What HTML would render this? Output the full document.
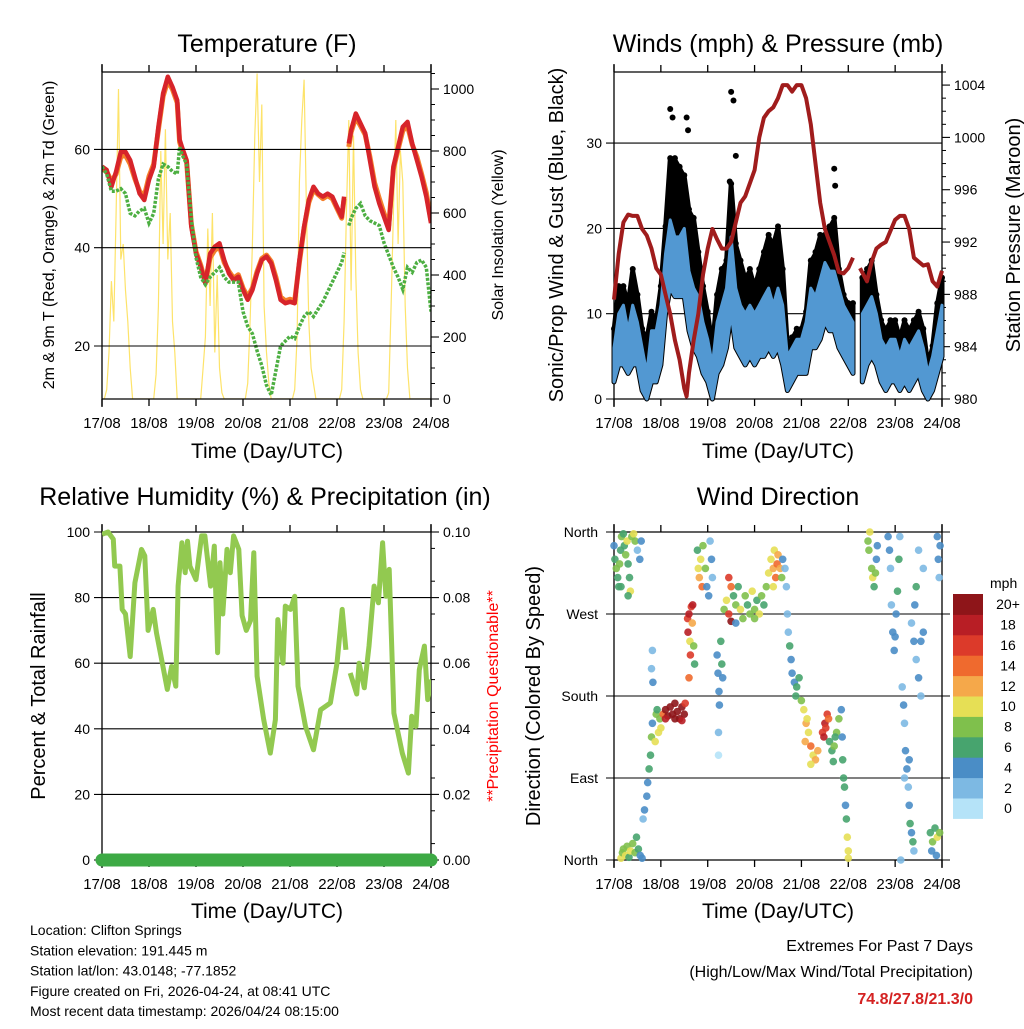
<!DOCTYPE html>
<html><head><meta charset="utf-8"><style>
html,body{margin:0;padding:0;background:#fff;}
svg text{font-family:"Liberation Sans",sans-serif;}
</style></head><body>
<svg id="s" width="1024" height="1024" viewBox="0 0 1024 1024" xmlns="http://www.w3.org/2000/svg">
<rect width="1024" height="1024" fill="#fff"/>
<g id="g"></g>
</svg>
<script>
// ===== Temperature panel data =====
const tempTimes=[0,0.1,0.2,0.3,0.4,0.5,0.6,0.7,0.8,0.9,1.0,1.1,1.2,1.3,1.4,1.5,1.6,1.65,1.7,1.8,1.9,2.0,2.1,2.2,2.3,2.4,2.5,2.6,2.7,2.8,2.9,3.0,3.1,3.2,3.3,3.4,3.5,3.6,3.7,3.8,3.9,4.0,4.1,4.2,4.3,4.4,4.5,4.6,4.7,4.8,4.9,5.0,5.1,5.15,5.2,5.25,5.3,5.4,5.5,5.6,5.7,5.8,5.9,6.0,6.1,6.2,6.3,6.4,6.5,6.6,6.7,6.8,6.9,7.0];
const temp2m=[56.5,55.8,52.4,55.5,59.5,59.5,57.8,54.4,51,49.7,53.8,56.5,64.6,71.4,74.8,72.7,70,62,60.5,57.8,44.3,38.8,36.1,32.7,38.8,40.2,40.9,37.5,34.8,33.4,34.1,31.4,29.4,31.4,34.8,37.5,38.2,36.8,33.4,29.4,28.7,29,28.7,37.5,44.3,49.7,52.4,51,50.4,51,50.4,48.3,46.3,50.4,null,61.2,63.9,67.3,65.3,63.3,57.8,52.4,49,46.3,43.6,56.5,60.5,64.6,65.6,61.2,57.8,54.4,50.4,45];
const temp9m=[56,55.5,53.5,55,58.5,58.8,57,54,51.5,50.5,54.5,57,64,70.8,74,72.2,69.5,61.5,60,57.5,44.8,39.2,36.5,33,38,39.5,40.2,37,35.2,33.8,34.5,31.8,30,31.8,35.2,37.8,38.5,37.2,34,30,29.2,29.5,29.2,37,44,49.2,51.8,50.8,50,50.6,50,48,46,50,null,60.5,63.5,66.5,64.8,63,58.5,53.2,50,47,44.5,56,60,63.8,64.8,61,58.5,55,51.2,45.5];
const dew2m=[56.5,55,51.5,51.5,52,51,47,46.5,47.5,48,45,47,54,57,56.5,55.5,55,60.5,59,57,46,38,34,32.5,34,35,36,34,33,33,33,27,24,22.5,19,16,12,10,15,20,21,22,21.5,24,26,27,26,27.5,29,31,33,35,37,39,null,44.5,46,48,49,46.5,45.5,45,44.5,41,38.5,36,34,31.5,36,35,37,37.5,36,27];
const solarValues=[0,0,30,150,380,250,600,1000,450,500,350,250,100,0,0,0,0,0,0,0,
0,0,0,80,300,800,500,870,450,600,250,150,0,0,0,0,0,0,0,0,
0,0,0,100,200,550,300,600,150,400,100,20,0,0,0,0,0,0,0,0,
0,0,50,250,500,850,1050,700,950,300,150,50,0,0,0,0,0,0,0,0,
0,0,30,200,700,900,1030,600,250,100,50,0,0,0,0,0,0,0,0,0,
0,0,30,250,600,900,350,850,400,150,30,0,0,0,0,0,0,0,0,0,
0,0,20,300,600,900,500,800,700,300,100,0,0,0,0,0,0,0,0,0,0];
// ===== Wind panel data =====
const windTimes=[0,0.1,0.2,0.3,0.4,0.5,0.6,0.7,0.8,0.9,1.0,1.1,1.2,1.3,1.4,1.5,1.6,1.7,1.8,1.9,2.0,2.1,2.2,2.3,2.4,2.5,2.6,2.7,2.8,2.9,3.0,3.1,3.2,3.3,3.4,3.5,3.6,3.7,3.8,3.9,4.0,4.1,4.2,4.3,4.4,4.5,4.6,4.7,4.8,4.9,5.0,5.1,5.2,5.3,5.4,5.5,5.6,5.7,5.8,5.9,6.0,6.1,6.2,6.3,6.4,6.5,6.6,6.7,6.8,6.9,7.0];
const windSpeed=[6,10,11,8,11,9,6,3,8,8,11,17,21,19,19,20,15,13,12,9,7,4,9,11,13,19,13,11,10,11,10,11,12,13,11,13,11,5,6,7,7,9,13,12,14,16,15,15,13,11,10,9,null,10,11,12,10,7,6,7,7,5,7,6,7,8,6,3,5,8,11];
const windLow=[2,4,4,3,4,4,1,0,2,2,4,10,13,12,12,12,8,6,5,3,2,0,3,4,6,10,6,5,4,5,4,5,5,6,5,6,4,1,2,3,3,3,6,6,7,9,8,8,6,5,4,3,null,2,4,5,4,2,1,2,2,1,2,1,2,3,1,0,1,3,5];
const windGust=[8,13,13,11,15,12,8,7,10,9,13,20,28,28,27,26,22,21,17,13,10,6,12,15,16,25,18,16,14,15,13,15,17,19,18,20,15,6,7,8,8,10,16,17,19,19,20,21,15,12,11,11,null,14,15,16,12,9,8,9,9,7,9,8,9,10,8,4,6,11,14];
const peakGustTimes=[1.2,1.25,1.55,1.58,2.5,2.55,2.6,4.7,4.72,2.47];
const peakGustValues=[34,33,33,31.5,36,35,28.5,27,25,25.5];
const pressTimes=[0,0.1,0.2,0.3,0.4,0.5,0.6,0.7,0.8,0.9,1.0,1.1,1.2,1.3,1.4,1.5,1.55,1.6,1.7,1.8,1.9,2.0,2.1,2.2,2.3,2.4,2.5,2.6,2.7,2.8,2.9,3.0,3.1,3.2,3.3,3.4,3.5,3.6,3.7,3.8,3.9,4.0,4.1,4.2,4.3,4.4,4.5,4.6,4.7,4.8,4.9,5.0,5.1,5.2,5.25,5.4,5.5,5.6,5.7,5.8,6.0,6.1,6.2,6.3,6.4,6.5,6.6,6.7,6.8,6.9,7.0];
const pressValues=[987.6,991.1,993.5,994.1,994,994,993,992.5,991.5,990,989.5,988,986.5,984.5,983,980.8,980.2,982,984.5,986.5,989.5,991.5,993,992.2,991.5,991.5,992,993.5,995,995.5,996.5,997.5,1000,1001.5,1002,1002.3,1003,1004,1004,1003.5,1004,1004,1003,1001,998,995,993,992,991,989.7,989.6,990,990.8,null,990,989,990.5,991.5,991.8,992,993.7,994,994,993,990.8,990.5,990.2,990.3,989,988.6,989.8];
// ===== RH panel data =====
const rhTimes=[0,0.13,0.24,0.27,0.38,0.43,0.5,0.6,0.7,0.84,0.91,0.98,1.09,1.16,1.27,1.39,1.48,1.57,1.62,1.7,1.77,1.82,1.87,2.0,2.12,2.19,2.31,2.39,2.46,2.51,2.57,2.66,2.73,2.8,2.91,2.98,3.07,3.16,3.23,3.3,3.44,3.58,3.69,3.74,3.85,3.9,4.01,4.1,4.17,4.33,4.5,4.65,4.86,5.0,5.11,5.19,5.23,5.28,5.42,5.47,5.58,5.68,5.79,5.88,5.97,6.04,6.11,6.21,6.39,6.52,6.59,6.68,6.75,6.86,6.93,7.0];
const rhValues=[99.3,100,97.8,89.6,89.6,76.4,75,62,84.5,94.7,92.7,70,76.4,69.2,61,52,59,53,83.5,96.7,87.6,97.2,89.6,85.5,98.8,98.8,83.5,95.7,63.2,90.6,75,94.7,87.6,98.8,94.7,74.5,70,73,93.7,56,42.8,32.6,42.8,73.3,60,77.4,76.4,80.4,53,40.7,33.6,45.8,47.9,60,76.4,64.1,null,57,50.6,60,52.5,65.2,83.5,78.4,96.7,80.4,88.6,44.8,32.6,26.5,43.8,40.7,58,65.2,48.9,55];
const precipTimes=[0,7];
const precipValues=[0,0];
// ===== Wind direction data =====
const dirTimes=[0.02,0.05,0.08,0.1,0.12,0.14,0.16,0.2,0.22,0.25,0.28,0.3,0.33,0.35,0.38,0.42,0.45,0.5,0.55,0.58,0.0,0.15,0.3,
0.15,0.18,0.2,0.25,0.28,0.32,0.35,0.4,0.45,0.48,0.52,0.56,0.6,
0.62,0.65,0.7,0.72,0.75,0.78,0.8,0.82,0.8,0.82,0.83,0.9,0.95,0.88,0.98,1.0,0.92,
1.05,1.1,1.15,1.2,1.25,1.3,1.35,1.4,1.45,1.5,1.52,1.1,1.3,1.45,
1.57,1.58,1.6,1.62,1.63,1.65,1.67,1.7,1.72,1.6,1.68,
1.78,1.8,1.82,1.85,1.88,1.9,1.95,1.98,2.02,2.05,2.08,2.1,
2.2,2.22,2.24,2.25,2.23,2.23,2.28,2.3,2.32,
2.35,2.4,2.45,2.5,2.55,2.6,2.65,2.7,2.75,2.8,2.85,2.9,2.95,3.0,3.05,3.1,3.15,3.2,3.25,2.45,2.5,2.6,3.0,
3.3,3.35,3.4,3.42,3.45,3.48,3.5,3.55,3.58,3.4,3.6,
3.65,3.68,3.7,3.72,3.75,3.78,3.8,3.85,3.9,3.95,3.88,
4.0,4.05,4.1,4.15,4.2,4.25,4.3,4.35,4.08,4.12,4.2,
4.45,4.5,4.55,4.58,4.48,4.52,
4.6,4.65,4.7,4.75,4.8,4.68,4.72,
4.85,4.87,4.88,4.9,4.92,4.94,4.96,4.98,5.0,5.0,
5.42,5.44,5.46,5.5,5.52,5.55,5.58,5.6,5.62,
5.85,5.88,5.9,5.92,5.95,5.98,6.0,6.02,6.05,6.08,6.1,
6.15,6.18,6.2,6.22,6.25,6.28,6.3,6.32,6.35,6.38,6.4,6.2,6.3,6.12,
6.35,6.4,6.45,6.5,6.55,6.6,6.5,6.45,6.6,6.42,6.55,
6.75,6.8,6.85,6.9,6.95,6.78,6.88,6.9,6.92,6.94,6.96];
const dirValues=[330,320,310,300,325,340,355,358,345,335,350,325,310,295,355,358,350,340,330,350,345,300,290,
2,8,12,5,15,3,10,18,8,25,12,5,2,
45,55,70,85,100,115,135,150,210,230,195,160,140,130,155,145,165,
160,165,158,168,160,172,163,155,168,160,172,155,155,153,
265,250,270,240,225,278,260,235,215,200,280,
340,320,310,330,300,345,320,300,290,350,330,310,
225,205,185,170,140,115,240,215,200,
275,285,270,262,290,280,300,275,265,290,280,270,295,275,285,270,290,280,300,310,300,260,265,
315,330,320,340,310,325,335,320,310,300,330,
320,300,270,250,235,220,205,195,190,200,180,
175,165,150,140,125,115,110,120,130,155,105,
140,150,160,155,135,145,
130,120,125,140,155,108,135,
165,135,110,90,80,60,45,25,10,2,
350,340,360,320,310,300,315,330,345,
355,340,320,280,250,230,245,270,295,330,355,
190,170,150,120,100,80,60,40,30,20,10,90,110,0,
260,240,220,200,240,250,340,300,320,280,180,
30,20,35,25,30,10,5,355,330,310,345];
const dirSpeeds=[6,8,7,6,8,7,8,6,7,8,10,6,7,10,9,10,8,3,4,4,4,6,6,
10,9,8,10,8,7,10,8,9,7,7,4,5,
2,4,4,4,6,6,8,4,3,3,4,8,10,10,8,10,6,
14,20,20,20,22,20,21,20,20,21,16,18,20,18,
16,18,18,10,16,16,12,8,6,14,18,
6,10,12,10,14,8,8,4,4,3,4,2,
4,4,4,4,2,1,6,6,4,
8,10,16,20,6,8,6,10,8,8,6,8,10,8,6,10,8,6,8,16,14,4,8,
10,10,12,10,14,14,12,12,8,10,4,
2,2,2,2,6,4,4,4,6,6,6,
8,10,12,10,14,10,12,12,12,10,10,
16,18,16,14,18,16,
6,6,8,8,8,6,6,
4,4,6,6,6,4,6,10,10,10,
8,8,10,8,10,6,8,4,4,
4,4,2,2,4,4,4,4,6,6,2,
2,4,2,4,4,2,4,6,4,6,2,2,4,2,
2,4,2,4,4,4,2,6,2,4,2,
6,8,6,10,8,4,4,4,4,2,4];
const speedLabels=["0","2","4","6","8","10","12","14","16","18","20+"];

const NS='http://www.w3.org/2000/svg';
const G=document.getElementById('g');
function el(tag,attrs,parent){const e=document.createElementNS(NS,tag);for(const k in attrs)e.setAttribute(k,attrs[k]);(parent||G).appendChild(e);return e;}
function txt(x,y,s,size,opts,parent){const e=el('text',Object.assign({x:x,y:y,'font-size':size,fill:'#000'},opts||{}),parent);e.textContent=s;return e;}

const colors=['#b5e3f8','#7db9e3','#4a8dc6','#47a46e','#7fc04c','#e6df55','#f5a84a','#ef6a2e','#dc3a2a','#b81e25','#8e1519'];
const dayLabels=['17/08','18/08','19/08','20/08','21/08','22/08','23/08','24/08'];

function panel(name){
  const g=el('g',{});
  
  
  return g;
}
function xAxis(g,L,R,T,B){
  const sx=d=>L+d*(R-L)/7;
  for(let i=0;i<8;i++){
    const x=sx(i);
    el('line',{x1:x,y1:B,x2:x,y2:B+7,stroke:'#000','stroke-width':1.3},g);
    el('line',{x1:x,y1:T,x2:x,y2:T-7,stroke:'#000','stroke-width':1.3},g);
    const t=txt(x,B+29,dayLabels[i],15,{'text-anchor':'middle'},g);
    
    
  }
  el('line',{x1:L,y1:T,x2:R,y2:T,stroke:'#000','stroke-width':1.3},g);
  el('line',{x1:L,y1:B,x2:R,y2:B,stroke:'#000','stroke-width':1.3},g);
  el('line',{x1:L,y1:T-8,x2:L,y2:B+8,stroke:'#000','stroke-width':1.3},g);
  el('line',{x1:R,y1:T-8,x2:R,y2:B+8,stroke:'#000','stroke-width':1.3},g);
  return sx;
}
function yLeft(g,L,R,sy,ticks,fmt,grid){
  ticks.forEach(v=>{const y=sy(v);
    el('line',{x1:L-8,y1:y,x2:grid?R:L,y2:y,stroke:'#000','stroke-width':1.1},g);
    const t=txt(L-12,y+5,fmt(v),14,{'text-anchor':'end'},g);
    
    
  });
}
function yRight(g,R,sy,ticks,minors,fmt){
  minors.forEach(v=>{el('line',{x1:R,y1:sy(v),x2:R+4,y2:sy(v),stroke:'#000','stroke-width':1},g);});
  ticks.forEach(v=>{const y=sy(v);
    el('line',{x1:R,y1:y,x2:R+8,y2:y,stroke:'#000','stroke-width':1.1},g);
    const t=txt(R+12,y+5,fmt(v),14,{},g);
    
    
  });
}
function linePath(ts,vs,sx,sy){let d='',pen=false;for(let i=0;i<ts.length;i++){if(vs[i]==null){pen=false;continue;}d+=(pen?'L':'M')+sx(ts[i]).toFixed(1)+','+sy(vs[i]).toFixed(1);pen=true;}return d;}
function bandPaths(ts,hi,lo,sx,sy){
  let seg=[];const segs=[];
  for(let i=0;i<ts.length;i++){if(hi[i]==null||lo[i]==null){if(seg.length)segs.push(seg);seg=[];}else seg.push(i);}
  if(seg.length)segs.push(seg);
  return segs.map(s=>{let d='';s.forEach((i,k)=>{d+=(k?'L':'M')+sx(ts[i]).toFixed(1)+','+sy(hi[i]).toFixed(1);});
    for(let k=s.length-1;k>=0;k--){const i=s[k];d+='L'+sx(ts[i]).toFixed(1)+','+sy(lo[i]).toFixed(1);}return d+'Z';});
}
function title(x,y,s,name){const t=txt(x,y,s,25,{'text-anchor':'middle'});}
function vtitle(x,y,s,size,name,color){const t=txt(0,0,s,size,{'text-anchor':'middle',transform:'translate('+x+','+y+') rotate(-90)',fill:color||'#000'});}
function xtitle(x,y){const xt=txt(x,y,'Time (Day/UTC)',21,{'text-anchor':'middle'});}

// ---------- Panel 1: Temperature ----------
(function(){
  const L=102,R=431,T=72,B=399;
  const g=panel('temperature-panel');
  const sy=v=>346-(v-20)*(98.3/20);
  const sy2=v=>399-v*0.31;
  const clip=el('clipPath',{id:'c1'},g);el('rect',{x:L,y:T,width:R-L,height:B-T},clip);
  const data=el('g',{'clip-path':'url(#c1)'},g);
  const solT=solarValues.map((v,i)=>i*0.05);
  const sp=el('path',{d:linePath(solT,solarValues,d=>L+d*(R-L)/7,sy2),fill:'none',stroke:'#fde36a','stroke-width':1.2},data);
  
  const sx=xAxis(g,L,R,T,B);
  yLeft(g,L,R,sy,[20,40,60],v=>v,true);
  yRight(g,R,sy2,[0,200,400,600,800,1000],[50,100,150,250,300,350,450,500,550,650,700,750,850,900,950,1050],v=>v);
  const o=el('path',{d:linePath(tempTimes,temp9m,sx,sy),fill:'none',stroke:'#f47f2a','stroke-width':5,'stroke-linejoin':'round'},data);
  
  const r=el('path',{d:linePath(tempTimes,temp2m,sx,sy),fill:'none',stroke:'#d7242a','stroke-width':4.5,'stroke-linejoin':'round'},data);
  
  const gr=el('path',{d:linePath(tempTimes,dew2m,sx,sy),fill:'none',stroke:'#4daf42','stroke-width':3.5,'stroke-dasharray':'3 1.5'},data);
  
  title(267,52,'Temperature (F)','temperature-title');
  vtitle(54,235,'2m & 9m T (Red, Orange) & 2m Td (Green)',16,'temperature-y-title');
  vtitle(503,235,'Solar Insolation (Yellow)',16,'solar-y-title');
  xtitle(267,458);
})();

// ---------- Panel 2: Winds ----------
(function(){
  const L=614,R=942,T=72,B=399;
  const g=panel('winds-panel');
  const sy=v=>399-v*8.53;
  const sy2=v=>399-(v-980)*13.08;
  const sx=xAxis(g,L,R,T,B);
  yLeft(g,L,R,sy,[0,10,20,30],v=>v,true);
  const mins=[];for(let v=981;v<=1005;v++)if(v%4)mins.push(v);
  yRight(g,R,sy2,[980,984,988,992,996,1000,1004],mins,v=>v);
  const clip=el('clipPath',{id:'c2'},g);el('rect',{x:L-3,y:T,width:R-L+6,height:B-T+4},clip);
  const data=el('g',{'clip-path':'url(#c2)'},g);
  bandPaths(windTimes,windGust,windLow,sx,sy).forEach(d=>{
    const p=el('path',{d:d,fill:'#000',stroke:'#000','stroke-width':5,'stroke-linejoin':'round'},data);
    });
  for(let i=0;i<windTimes.length;i++){if(windGust[i]==null)continue;
    const c=el('circle',{cx:sx(windTimes[i]),cy:sy(windGust[i])-2,r:3,fill:'#000'},data);
    }
  for(let i=0;i<peakGustTimes.length;i++){
    const c=el('circle',{cx:sx(peakGustTimes[i]),cy:sy(peakGustValues[i]),r:3,fill:'#000'},data);
    }
  bandPaths(windTimes,windSpeed,windLow,sx,sy).forEach(d=>{
    const p=el('path',{d:d,fill:'#5298d2',stroke:'#5298d2','stroke-width':3,'stroke-linejoin':'round'},data);
    });
  const p=el('path',{d:linePath(pressTimes,pressValues,sx,sy2),fill:'none',stroke:'#a01c1c','stroke-width':4,'stroke-linejoin':'round'},data);
  
  title(778,52,'Winds (mph) & Pressure (mb)','winds-title');
  vtitle(563,235,'Sonic/Prop Wind & Gust (Blue, Black)',20,'wind-y-title');
  vtitle(1020,235,'Station Pressure (Maroon)',20,'pressure-y-title');
  xtitle(778,458);
})();

// ---------- Panel 3: RH ----------
(function(){
  const L=102,R=431,T=532,B=860;
  const g=panel('humidity-panel');
  const sy=v=>860-v*3.28;
  const sy2=v=>860-v*3280;
  const sx=xAxis(g,L,R,T,B);
  yLeft(g,L,R,sy,[0,20,40,60,80,100],v=>v,true);
  const mins=[];for(let v=0.005;v<0.1;v+=0.01)mins.push(v);
  yRight(g,R,sy2,[0,0.02,0.04,0.06,0.08,0.1],mins,v=>v.toFixed(2));
  const clip=el('clipPath',{id:'c3'},g);el('rect',{x:L,y:T-4,width:R-L,height:B-T+4},clip);
  const data=el('g',{'clip-path':'url(#c3)'},g);
  const r=el('path',{d:linePath(rhTimes,rhValues,sx,sy),fill:'none',stroke:'#92c950','stroke-width':5,'stroke-linejoin':'round'},data);
  
  const pr=el('path',{d:linePath(precipTimes,precipValues,sx,sy2),fill:'none',stroke:'#3daa45','stroke-width':13,'stroke-linecap':'round'},g);
  
  title(265,505,'Relative Humidity (%) & Precipitation (in)','humidity-title');
  vtitle(45,696,'Percent & Total Rainfall',20,'humidity-y-title');
  vtitle(498,696,'**Precipitation Questionable**',16,'precip-warning','#ff0000');
  xtitle(267,918);
})();

// ---------- Panel 4: Wind direction ----------
(function(){
  const L=614,R=942,T=532,B=860;
  const g=panel('wind-direction-panel');
  const sy=v=>860-v*(328/360);
  const sx=xAxis(g,L,R,T,B);
  const names=['North','East','South','West','North'];
  [0,90,180,270,360].forEach((v,i)=>{const y=sy(v);
    el('line',{x1:L-8,y1:y,x2:R+8,y2:y,stroke:'#000','stroke-width':1.1},g);
    const t=txt(L-16,y+5,names[i],14,{'text-anchor':'end'},g);});
  const data=el('g',{},g);
  for(let i=0;i<dirTimes.length;i++){
    const c=el('circle',{cx:sx(dirTimes[i]).toFixed(1),cy:sy(dirValues[i]).toFixed(1),r:3.8,fill:colors[Math.min(10,Math.floor(dirSpeeds[i]/2))],'fill-opacity':0.9},data);
    
    
  }
  title(778,505,'Wind Direction','wind-direction-title');
  vtitle(540,696,'Direction (Colored By Speed)',20,'direction-y-title');
  xtitle(778,918);
  const lg=el('g',{});
  
  
  const mh=txt(990,588,'mph',14,{},lg);
  const bh=20.4;
  for(let k=0;k<11;k++){const y=594+(10-k)*bh;
    const r=el('rect',{x:953,y:y,width:30,height:bh+0.5,fill:colors[k]},lg);
    
    const t=txt(1008,y+bh/2+5,speedLabels[k],14,{'text-anchor':'middle'},lg);
    }
})();

// ---------- Footer ----------
(function(){
  const lines=['Location: Clifton Springs','Station elevation: 191.445 m','Station lat/lon: 43.0148; -77.1852','Figure created on Fri, 2026-04-24, at 08:41 UTC','Most recent data timestamp: 2026/04/24 08:15:00'];
  lines.forEach((s,i)=>{const t=txt(30,935+i*20.3,s,14);});
  const a=txt(973,951,'Extremes For Past 7 Days',16,{'text-anchor':'end'});
  const b=txt(973,977,'(High/Low/Max Wind/Total Precipitation)',16,{'text-anchor':'end'});
  const c=txt(973,1004,'74.8/27.8/21.3/0',16,{'text-anchor':'end',fill:'#d42222','font-weight':'bold'});
})();
</script>
</body></html>
